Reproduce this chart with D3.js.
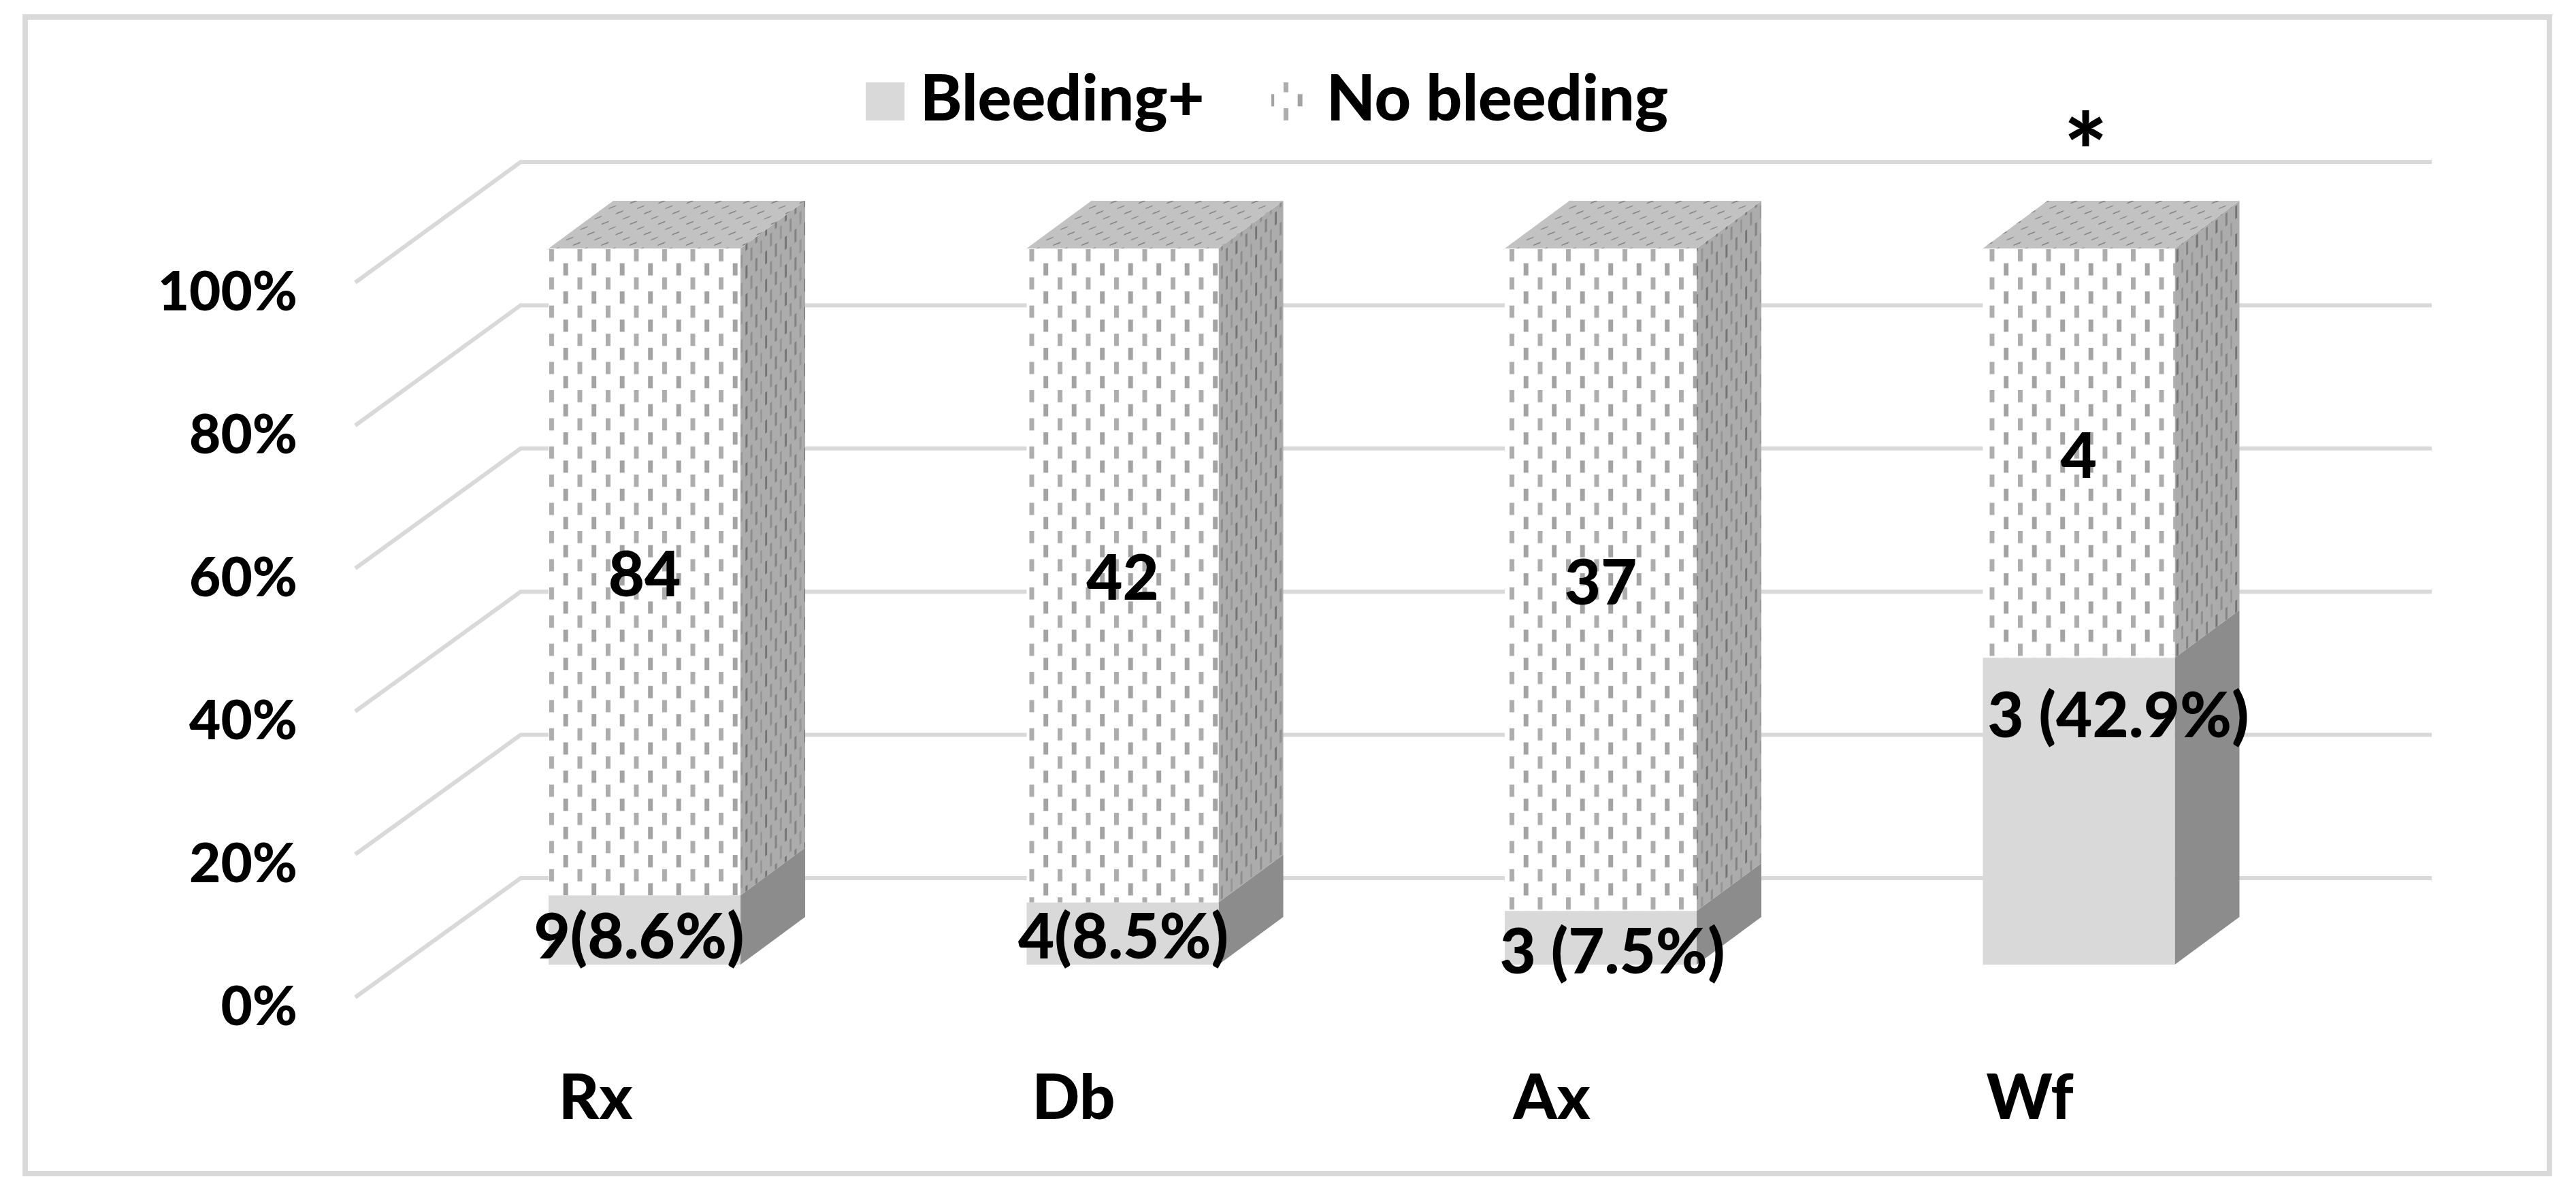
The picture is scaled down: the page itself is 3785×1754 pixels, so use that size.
<!DOCTYPE html>
<html>
<head>
<meta charset="utf-8">
<script src="https://cdn.jsdelivr.net/npm/d3@7"></script>
<style>
  body { margin: 0; background: #fff; }
  text { font-family: Lato, "Open Sans", sans-serif; font-weight: 900; fill: #000; }
</style>
</head>
<body>
<div id="chart"></div>
<script>
const categories = ['Rx', 'Db', 'Ax', 'Wf'];
const bleeding = [9, 4, 3, 3];
const noBleeding = [84, 42, 37, 4];
const bleedingLabels = ['9(8.6%)', '4(8.5%)', '3 (7.5%)', '3 (42.9%)'];
const tickValues = [0, 0.2, 0.4, 0.6, 0.8, 1];
const seriesNames = ['Bleeding+', 'No bleeding'];

const width = 3785;
const height = 1754;

const svg = d3.select('#chart')
  .append('svg')
  .attr('width', width)
  .attr('height', height)
  .style('display', 'block');

const defs = svg.append('defs');

// front face of the no bleeding part: white with staggered grey dashes
const frontPat = defs.append('pattern')
  .attr('id', 'front')
  .attr('patternUnits', 'userSpaceOnUse')
  .attr('width', 41.5)
  .attr('height', 41.4)
  .attr('x', 806)
  .attr('y', 365);
frontPat.append('rect').attr('width', 41.5).attr('height', 41.4).attr('fill', '#fff');
frontPat.append('rect').attr('x', 1).attr('y', 1).attr('width', 7).attr('height', 18).attr('fill', '#adadad');
frontPat.append('rect').attr('x', 21.7).attr('y', 21.7).attr('width', 7).attr('height', 18).attr('fill', '#a3a3a3');

// side face, same dashes but much narrower and sheared back
const sidePat = defs.append('pattern')
  .attr('id', 'side')
  .attr('patternUnits', 'userSpaceOnUse')
  .attr('width', 28.8)
  .attr('height', 41.4)
  .attr('patternTransform', 'matrix(1,-0.74,0,1,0,0)');
sidePat.append('rect').attr('width', 28.8).attr('height', 41.4).attr('fill', '#acacac');
[[1, 1, '#747474'], [8.2, 21.7, '#8e8e8e'], [15.4, 1, '#828282'], [22.6, 21.7, '#969696']].forEach(p => {
  sidePat.append('rect')
    .attr('x', p[0])
    .attr('y', p[1])
    .attr('width', 3)
    .attr('height', 19)
    .attr('fill', p[2]);
});

const topPat = defs.append('pattern')
  .attr('id', 'top')
  .attr('patternUnits', 'userSpaceOnUse')
  .attr('width', 41.5)
  .attr('height', 15.4)
  .attr('patternTransform', 'matrix(1,0,-1.36,1,0,0)');
topPat.append('rect').attr('width', 41.5).attr('height', 15.4).attr('fill', '#c2c2c2');
topPat.append('path').attr('d', 'M4,6 l5,-4').attr('stroke', '#858585').attr('stroke-width', 3);
topPat.append('path').attr('d', 'M24.7,13.7 l5,-4').attr('stroke', '#929292').attr('stroke-width', 3);

// outer frame
svg.append('rect')
  .attr('x', 37)
  .attr('y', 25)
  .attr('width', 3709)
  .attr('height', 1699)
  .attr('fill', '#fff')
  .attr('stroke', '#d9d9d9')
  .attr('stroke-width', 8);

const yFront = d3.scaleLinear().domain([0, 1]).range([1465, 415]);
const yBack = d3.scaleLinear().domain([0, 1]).range([1290, 238]);
const yBar = d3.scaleLinear().domain([0, 1]).range([1417, 365]);

const x = d3.scaleBand()
  .domain(categories)
  .range([806, 3195.5])
  .paddingInner(0.5985)
  .paddingOuter(0);

const depthX = 95;
const depthY = 70;
const floorLeft = 522;
const wallLeft = 765;
const wallRight = 3573;

// gridlines: up the side wall then along the back wall
svg.append('g')
  .selectAll('path')
  .data(tickValues)
  .join('path')
  .attr('d', d => d3.line()([[floorLeft, yFront(d)], [wallLeft, yBack(d)], [wallRight, yBack(d)]]))
  .attr('fill', 'none')
  .attr('stroke', '#d9d9d9')
  .attr('stroke-width', 6);

// stacked shares per drug
const totals = categories.map((c, i) => bleeding[i] + noBleeding[i]);
const stacks = categories.map((c, i) => ({
  cat: c,
  share: bleeding[i] / totals[i]
}));

const bars = svg.append('g')
  .selectAll('g')
  .data(stacks)
  .join('g');

function sidePoly(d, v0, v1) {
  const x1 = x(d.cat) + x.bandwidth();
  return d3.line()([
    [x1, yBar(v0)],
    [x1 + depthX, yBar(v0) - depthY],
    [x1 + depthX, yBar(v1) - depthY],
    [x1, yBar(v1)]
  ]) + 'Z';
}

bars.append('path')
  .attr('d', d => sidePoly(d, 0, d.share))
  .attr('fill', '#8c8c8c');

bars.append('path')
  .attr('d', d => sidePoly(d, d.share, 1))
  .attr('fill', 'url(#side)');

bars.append('path')
  .attr('d', d => {
    const x0 = x(d.cat);
    const x1 = x0 + x.bandwidth();
    const t = yBar(1);
    return d3.line()([[x0, t], [x1, t], [x1 + depthX, t - depthY], [x0 + depthX, t - depthY]]) + 'Z';
  })
  .attr('fill', 'url(#top)');

bars.append('rect')
  .attr('x', d => x(d.cat))
  .attr('y', d => yBar(d.share))
  .attr('width', x.bandwidth())
  .attr('height', d => yBar(0) - yBar(d.share))
  .attr('fill', '#d9d9d9');

bars.append('rect')
  .attr('x', d => x(d.cat))
  .attr('y', yBar(1))
  .attr('width', x.bandwidth())
  .attr('height', d => yBar(d.share) - yBar(1))
  .attr('fill', 'url(#front)');

// data labels, bleeding ones were moved by hand in the original
const labelFont = 92;
const bleedShift = [-8, 1, 17, 58];
const bleedY = [1408, 1408, 1430, 1083];

svg.append('g')
  .selectAll('text')
  .data(stacks)
  .join('text')
  .attr('x', d => x(d.cat) + x.bandwidth() / 2)
  .attr('y', d => (yBar(d.share) + yBar(1)) / 2 + 36)
  .attr('text-anchor', 'middle')
  .attr('font-size', labelFont)
  .text((d, i) => noBleeding[i]);

svg.append('g')
  .selectAll('text')
  .data(stacks)
  .join('text')
  .attr('x', (d, i) => x(d.cat) + x.bandwidth() / 2 + bleedShift[i])
  .attr('y', (d, i) => bleedY[i])
  .attr('text-anchor', 'middle')
  .attr('font-size', labelFont)
  .text((d, i) => bleedingLabels[i]);

// significance star over Wf
svg.append('text')
  .attr('x', x('Wf') + x.bandwidth() / 2 + 10)
  .attr('y', 278)
  .attr('text-anchor', 'middle')
  .attr('font-size', 152)
  .text('*');

// axes
const yAxis = svg.append('g')
  .attr('transform', 'translate(437,0)')
  .call(d3.axisLeft(yFront).tickValues(tickValues).tickFormat(d3.format('.0%')).tickSize(0).tickPadding(0));
yAxis.select('.domain').remove();
yAxis.selectAll('text')
  .attr('font-size', 80)
  .attr('font-family', null)
  .attr('dy', 40);

const xAxis = svg.append('g')
  .attr('transform', 'translate(-72,1644)')
  .call(d3.axisBottom(x).tickSize(0).tickPadding(0));
xAxis.select('.domain').remove();
xAxis.selectAll('text')
  .attr('font-size', 92)
  .attr('font-family', null)
  .attr('y', 0)
  .attr('dy', 0);

// legend
const legendX = [1272, 1868];
const legendTextX = [1352, 1949];
const legendFill = ['#d9d9d9', 'url(#front)'];
const legend = svg.append('g');
seriesNames.forEach((name, i) => {
  legend.append('rect')
    .attr('x', legendX[i])
    .attr('y', 121)
    .attr('width', 57)
    .attr('height', 56)
    .attr('fill', legendFill[i]);
  legend.append('text')
    .attr('x', legendTextX[i])
    .attr('y', 177)
    .attr('font-size', 93)
    .text(name);
});
</script>
</body>
</html>
